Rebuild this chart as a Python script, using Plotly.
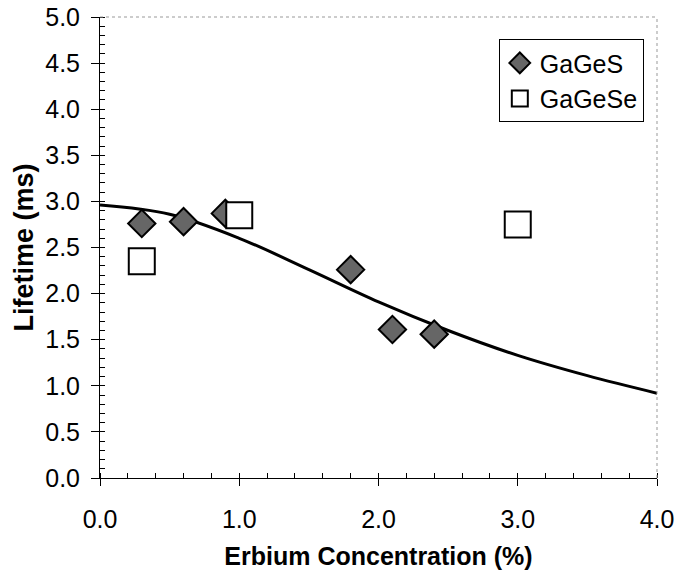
import plotly.graph_objects as go

# Measured lifetimes (ms) vs. erbium concentration (%)
gages_conc = [0.3, 0.6, 0.9, 1.8, 2.1, 2.4]
gages_life = [2.76, 2.78, 2.87, 2.26, 1.61, 1.56]

gagese_conc = [0.3, 1.0, 3.0]
gagese_life = [2.35, 2.85, 2.75]

# Concentration-quenching trend line
fit_conc = [0.0, 0.5, 1.0, 1.5, 2.0, 2.5, 3.0, 3.5, 4.0]
fit_life = [2.96, 2.86, 2.60, 2.26, 1.91, 1.60, 1.33, 1.11, 0.92]

x_ticks = [0, 1, 2, 3, 4]
x_tick_text = ["0.0", "1.0", "2.0", "3.0", "4.0"]
y_ticks = [0, 0.5, 1, 1.5, 2, 2.5, 3, 3.5, 4, 4.5, 5]
y_tick_text = ["0.0", "0.5", "1.0", "1.5", "2.0", "2.5", "3.0", "3.5", "4.0", "4.5", "5.0"]

FONT = "Liberation Sans, Arial, sans-serif"

fig = go.Figure()

fig.add_trace(go.Scatter(
    x=fit_conc, y=fit_life, mode="lines", line=dict(color="black", width=3, shape="spline"),
    showlegend=False, hoverinfo="skip",
))
fig.add_trace(go.Scatter(
    x=gages_conc, y=gages_life, mode="markers", name="GaGeS",
    marker=dict(symbol="diamond", size=21, color="#666666", line=dict(color="black", width=2)),
))
fig.add_trace(go.Scatter(
    x=gagese_conc, y=gagese_life, mode="markers", name="GaGeSe",
    marker=dict(symbol="square", size=26, color="white", line=dict(color="black", width=2)),
))
# Invisible trace carrying the inner half of the major y ticks
fig.add_trace(go.Scatter(x=[None], y=[None], yaxis="y2", showlegend=False))

fig.update_layout(
    width=678, height=570,
    margin=dict(l=100, r=21, t=17, b=92),
    paper_bgcolor="white", plot_bgcolor="white",
    font=dict(family=FONT, color="black", size=25),
    xaxis=dict(
        range=[0, 4], tickvals=x_ticks, ticktext=x_tick_text, automargin=False,
        showgrid=False, zeroline=False, showline=True, linecolor="black", linewidth=1,
        ticks="outside", ticklen=7, tickcolor="black", tickfont=dict(size=25),
        ticklabelstandoff=12,
        minor=dict(dtick=0.2, ticks="inside", ticklen=5, tickcolor="black", showgrid=False),
        title=dict(text="<b>Erbium Concentration (%)</b>", font=dict(size=25), standoff=15),
    ),
    yaxis=dict(
        range=[0, 5], tickvals=y_ticks, ticktext=y_tick_text, automargin=False,
        showgrid=False, zeroline=False, showline=True, linecolor="black", linewidth=1,
        ticks="outside", ticklen=8, tickcolor="black", tickfont=dict(size=25),
        ticklabelstandoff=6,
        minor=dict(dtick=0.1, ticks="inside", ticklen=5, tickcolor="black", showgrid=False),
        title=dict(text="<b>Lifetime (ms)</b>", font=dict(size=27), standoff=3),
    ),
    yaxis2=dict(
        range=[0, 5], overlaying="y", side="left", tickvals=y_ticks, automargin=False,
        showticklabels=False, showgrid=False, zeroline=False, showline=False,
        ticks="inside", ticklen=5, tickcolor="black",
    ),
    legend=dict(
        x=0.716, y=0.952, xanchor="left", yanchor="top",
        bordercolor="black", borderwidth=1, bgcolor="white",
        font=dict(size=25), itemwidth=30,
    ),
    shapes=[
        dict(type="line", xref="paper", yref="paper", x0=0, x1=1, y0=1, y1=1,
             line=dict(color="#999999", width=1, dash="dot")),
        dict(type="line", xref="paper", yref="paper", x0=1, x1=1, y0=0, y1=1,
             line=dict(color="#999999", width=1, dash="dot")),
    ],
)

fig.write_html("out.html")
